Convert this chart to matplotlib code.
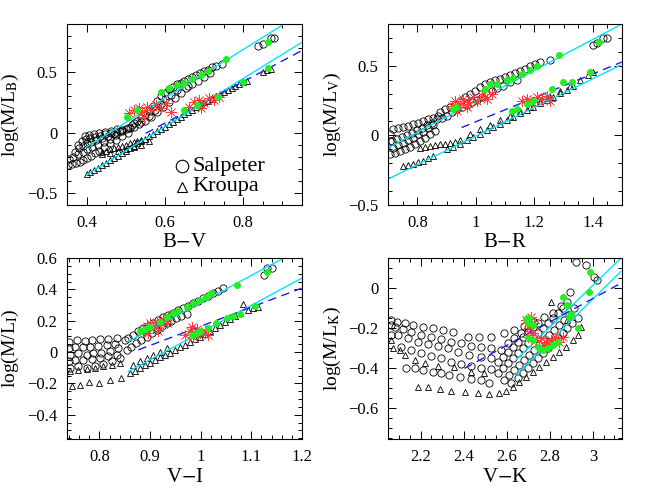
import matplotlib
matplotlib.use("Agg")
import matplotlib.pyplot as plt
from matplotlib.ticker import MultipleLocator

plt.rcParams['font.family'] = ['Liberation Serif', 'DejaVu Serif']
plt.rcParams['mathtext.fontset'] = 'stix'

# ---------------- B-V panel ----------------
bv_salp_x = [0.352, 0.362, 0.372, 0.382, 0.392, 0.402, 0.412, 0.422, 0.432, 0.445, 0.46, 0.475, 0.49, 0.505,
             0.355, 0.365, 0.378, 0.39, 0.402, 0.415, 0.43, 0.445, 0.46, 0.475, 0.49, 0.51,
             0.37, 0.38, 0.39, 0.40, 0.412, 0.425, 0.44, 0.455, 0.47, 0.485, 0.5, 0.515,
             0.378, 0.388, 0.398, 0.41, 0.422, 0.435, 0.448, 0.462, 0.476, 0.49, 0.505,
             0.395, 0.405, 0.418, 0.432, 0.447, 0.462, 0.477,
             0.52, 0.53, 0.54, 0.55, 0.56, 0.57, 0.58, 0.59, 0.60, 0.61, 0.62, 0.63, 0.64, 0.65, 0.66,
             0.67, 0.68, 0.69, 0.70, 0.71, 0.72, 0.73, 0.745,
             0.52, 0.535, 0.55, 0.565, 0.58, 0.595, 0.61, 0.625, 0.64, 0.655, 0.67, 0.685, 0.70, 0.715,
             0.54, 0.56, 0.575, 0.59, 0.60, 0.615, 0.63, 0.66,
             0.838, 0.85, 0.87, 0.878]
bv_salp_y = [-0.27, -0.26, -0.25, -0.24, -0.23, -0.21, -0.19, -0.17, -0.15, -0.12, -0.09, -0.06, -0.03, 0.0,
             -0.22, -0.2, -0.18, -0.16, -0.14, -0.12, -0.1, -0.08, -0.05, -0.02, 0.01, 0.04,
             -0.16, -0.13, -0.11, -0.09, -0.075, -0.06, -0.045, -0.03, -0.01, 0.01, 0.03, 0.06,
             -0.1, -0.07, -0.055, -0.045, -0.035, -0.025, -0.015, -0.005, 0.005, 0.02, 0.04,
             -0.03, -0.02, -0.015, -0.005, 0.005, 0.015, 0.03,
             0.08, 0.1, 0.12, 0.15, 0.18, 0.22, 0.26, 0.3, 0.33, 0.36, 0.38, 0.40, 0.41, 0.43, 0.44,
             0.46, 0.48, 0.49, 0.51, 0.52, 0.54, 0.55, 0.57,
             0.05, 0.07, 0.1, 0.13, 0.17, 0.21, 0.25, 0.29, 0.33, 0.37, 0.40, 0.43, 0.46, 0.49,
             0.09, 0.14, 0.19, 0.24, 0.28, 0.31, 0.35, 0.39,
             0.72, 0.73, 0.78, 0.785]
bv_krou_x = [0.40, 0.41, 0.42, 0.43, 0.44, 0.45, 0.46, 0.47, 0.48, 0.49, 0.50, 0.51, 0.52, 0.53, 0.54, 0.55,
             0.56, 0.57, 0.58, 0.59, 0.60, 0.61, 0.62, 0.63, 0.64, 0.65, 0.66, 0.67, 0.68, 0.69, 0.70,
             0.71, 0.72, 0.73, 0.74, 0.75, 0.76, 0.77, 0.78, 0.79, 0.80, 0.81, 0.85, 0.86, 0.87,
             0.44, 0.45, 0.46, 0.47, 0.48, 0.49, 0.50, 0.51, 0.52, 0.53, 0.54,
             0.44, 0.46, 0.48, 0.50, 0.52, 0.54, 0.56]
bv_krou_y = [-0.345, -0.33, -0.31, -0.29, -0.27, -0.25, -0.23, -0.21, -0.19, -0.17, -0.15, -0.13, -0.11, -0.09,
             -0.07, -0.05, -0.03, -0.01, 0.01, 0.03, 0.05, 0.07, 0.09, 0.11, 0.13, 0.15, 0.17, 0.19, 0.21,
             0.23, 0.25, 0.265, 0.28, 0.30, 0.32, 0.335, 0.35, 0.37, 0.385, 0.40, 0.42, 0.43, 0.50, 0.52, 0.53,
             -0.16, -0.15, -0.14, -0.13, -0.12, -0.11, -0.10, -0.09, -0.08, -0.07, -0.06,
             -0.18, -0.17, -0.155, -0.14, -0.12, -0.10, -0.07]
bv_green_x = [0.504, 0.53, 0.589, 0.611, 0.632, 0.649, 0.67, 0.692, 0.709, 0.756, 0.863,
              0.649, 0.683, 0.735, 0.799, 0.863]
bv_green_y = [0.132, 0.187, 0.339, 0.367, 0.395, 0.414, 0.442, 0.477, 0.513, 0.607, 0.753,
              0.187, 0.229, 0.298, 0.422, 0.533]
bv_red_x = [0.508, 0.521, 0.534, 0.542, 0.555, 0.564, 0.576, 0.589, 0.602, 0.615, 0.547,
            0.662, 0.675, 0.688, 0.70, 0.713, 0.726, 0.739, 0.692]
bv_red_y = [0.16, 0.187, 0.201, 0.173, 0.215, 0.187, 0.229, 0.201, 0.242, 0.173, 0.132,
            0.215, 0.256, 0.27, 0.242, 0.284, 0.27, 0.298, 0.201]
bv_cyan_x = [[0.401, 0.901], [0.40, 0.953]]
bv_cyan_y = [[-0.117, 0.892], [-0.351, 0.754]]
bv_dash_x = [0.551, 0.953]
bv_dash_y = [-0.006, 0.685]

# ---------------- B-R panel ----------------
br_salp_x = [0.706, 0.723, 0.74, 0.757, 0.774, 0.791, 0.809, 0.826, 0.843, 0.86,
             0.717, 0.734, 0.751, 0.769, 0.786, 0.803, 0.820, 0.837, 0.854, 0.871,
             0.712, 0.729, 0.746, 0.763, 0.78, 0.797, 0.814, 0.831, 0.849, 0.866,
             0.717, 0.734, 0.751, 0.769, 0.786, 0.803, 0.820, 0.837, 0.854,
             0.706, 0.706,
             0.877, 0.894, 0.911, 0.928, 0.946, 0.963, 0.98, 0.997, 1.014, 1.031, 1.048, 1.065, 1.083,
             1.1, 1.117, 1.134, 1.151, 1.168, 1.185, 1.202, 1.219, 1.254,
             0.883, 0.9, 0.917, 0.934, 0.951, 0.968, 0.985, 1.003, 1.02, 1.037, 1.054, 1.071, 1.094,
             1.117, 1.14,
             1.4, 1.416, 1.436, 1.45]
br_salp_y = [-0.137, -0.125, -0.113, -0.101, -0.084, -0.065, -0.04, -0.016, 0.008, 0.032,
             0.044, 0.056, 0.061, 0.068, 0.08, 0.092, 0.104, 0.116, 0.128, 0.14,
             -0.04, -0.028, -0.011, 0.003, 0.02, 0.037, 0.056, 0.075, 0.092, 0.116,
             -0.089, -0.07, -0.053, -0.036, -0.016, 0.008, 0.027, 0.051, 0.075,
             0.008, -0.04,
             0.165, 0.189, 0.206, 0.225, 0.249, 0.273, 0.298, 0.322, 0.346, 0.370, 0.382, 0.394, 0.406,
             0.418, 0.430, 0.447, 0.462, 0.479, 0.496, 0.515, 0.527, 0.544,
             0.128, 0.14, 0.165, 0.189, 0.206, 0.22, 0.237, 0.254, 0.273, 0.298, 0.322, 0.341, 0.358,
             0.382, 0.399,
             0.648, 0.665, 0.696, 0.701]
br_krou_x = [0.751, 0.769, 0.786, 0.803, 0.82, 0.837, 0.854,
             0.809, 0.826, 0.843, 0.86, 0.877, 0.894, 0.911, 0.928, 0.946,
             0.9, 0.923, 0.946, 0.968, 0.991, 1.014, 1.037, 1.06, 1.083, 1.105, 1.128, 1.151, 1.174,
             1.197, 1.22, 1.242, 1.265, 1.288, 1.311, 1.334, 1.357, 1.385, 1.402,
             0.98, 1.014, 1.048, 1.083, 1.117, 1.151, 1.185, 1.22, 1.254, 1.288, 1.322]
br_krou_y = [-0.222, -0.21, -0.205, -0.193, -0.181, -0.166, -0.149,
             -0.089, -0.084, -0.077, -0.072, -0.065, -0.06, -0.053, -0.046, -0.036,
             -0.101, -0.084, -0.06, -0.036, -0.011, 0.013, 0.037, 0.061, 0.085, 0.109, 0.133, 0.157, 0.182,
             0.206, 0.23, 0.254, 0.278, 0.302, 0.327, 0.358, 0.394, 0.43, 0.455,
             0.008, 0.044, 0.075, 0.109, 0.141, 0.177, 0.206, 0.244, 0.273, 0.317, 0.351]
br_green_x = [0.92, 0.932, 1.031, 1.048, 1.071, 1.105, 1.128, 1.157, 1.185, 1.208, 1.286, 1.423,
              1.122, 1.14, 1.174, 1.197, 1.26, 1.299, 1.328, 1.391]
br_green_y = [0.189, 0.201, 0.334, 0.37, 0.37, 0.394, 0.413, 0.438, 0.467, 0.496, 0.575, 0.672,
              0.177, 0.189, 0.225, 0.249, 0.334, 0.382, 0.382, 0.455]
br_red_x = [0.917, 0.928, 0.946, 0.957, 0.974, 0.991, 1.003, 1.02, 1.037, 1.054, 0.934, 0.968,
            1.157, 1.174, 1.191, 1.208, 1.225, 1.242, 1.254]
br_red_y = [0.213, 0.249, 0.225, 0.261, 0.237, 0.273, 0.249, 0.285, 0.261, 0.298, 0.177, 0.201,
            0.249, 0.261, 0.237, 0.273, 0.261, 0.285, 0.249]
br_cyan_x = [[0.70, 1.494], [0.70, 1.494]]
br_cyan_y = [[-0.089, 0.793], [-0.313, 0.503]]
br_dash_x = [0.951, 1.5]
br_dash_y = [0.056, 0.527]

# ---------------- V-I panel ----------------
vi_salp_x = [0.739, 0.755, 0.771, 0.785, 0.801, 0.817, 0.834, 0.85,
             0.739, 0.752, 0.768, 0.781, 0.798, 0.814, 0.831,
             0.742, 0.758, 0.775, 0.788, 0.804, 0.821, 0.837,
             0.739, 0.752, 0.768, 0.785, 0.801, 0.817, 0.834,
             0.742, 0.758, 0.775, 0.791, 0.808, 0.824, 0.841,
             0.857, 0.867, 0.877, 0.887, 0.896, 0.906, 0.916, 0.926, 0.936, 0.946, 0.956, 0.965, 0.975,
             0.985, 0.995, 1.005, 1.015, 1.025, 1.034, 1.044,
             0.854, 0.863, 0.873, 0.883, 0.893, 0.903, 0.913, 0.923, 0.933, 0.942, 0.952, 0.962, 0.972,
             1.124, 1.131, 1.14]
vi_salp_y = [0.067, 0.078, 0.073, 0.078, 0.082, 0.082, 0.088, 0.078,
             0.024, 0.035, 0.031, 0.035, 0.039, 0.044, 0.052,
             -0.018, -0.007, -0.018, -0.007, -0.003, 0.008, 0.025,
             -0.06, -0.05, -0.054, -0.045, -0.039, -0.028, -0.018,
             -0.103, -0.092, -0.103, -0.088, -0.075, -0.06, -0.039,
             0.088, 0.109, 0.131, 0.152, 0.167, 0.184, 0.205, 0.222, 0.237, 0.252, 0.269, 0.279, 0.294,
             0.311, 0.328, 0.343, 0.358, 0.375, 0.392, 0.407,
             0.014, 0.035, 0.056, 0.078, 0.099, 0.12, 0.141, 0.163, 0.184, 0.201, 0.216, 0.231, 0.243,
             0.492, 0.534, 0.534]
vi_krou_x = [0.745, 0.762, 0.78, 0.8, 0.821, 0.842,
             0.742, 0.758, 0.775, 0.791, 0.808, 0.824, 0.84,
             0.86, 0.87, 0.88, 0.89, 0.9, 0.909, 0.919, 0.929, 0.939, 0.949, 0.959, 0.969, 0.979, 0.988,
             0.998, 1.008, 1.018, 1.028, 1.038, 1.048, 1.057, 1.067, 1.077, 1.084, 1.094, 1.103, 1.113,
             0.867, 0.88, 0.893, 0.906, 0.919, 0.933]
vi_krou_y = [-0.215, -0.209, -0.194, -0.198, -0.181, -0.166,
             -0.118, -0.113, -0.109, -0.103, -0.092, -0.082, -0.071,
             -0.135, -0.118, -0.103, -0.082, -0.067, -0.05, -0.033, -0.018, -0.003, 0.014, 0.031, 0.046,
             0.067, 0.082, 0.099, 0.116, 0.131, 0.152, 0.173, 0.194, 0.209, 0.231, 0.248, 0.307, 0.269,
             0.279, 0.29,
             -0.082, -0.06, -0.039, -0.018, 0.003, 0.025]
vi_green_x = [0.88, 0.89, 0.9, 0.919, 0.933, 0.946, 0.956, 0.972, 0.985, 0.998, 1.011, 1.021, 1.071, 1.13,
              0.982, 0.992, 0.998, 1.015, 1.031, 1.051, 1.064, 1.077, 1.107]
vi_green_y = [0.131, 0.146, 0.158, 0.194, 0.222, 0.247, 0.264, 0.29, 0.311, 0.332, 0.354, 0.375, 0.428, 0.509,
              0.109, 0.12, 0.131, 0.152, 0.184, 0.216, 0.231, 0.243, 0.294]
vi_red_x = [0.887, 0.893, 0.9, 0.906, 0.913, 0.919, 0.926, 0.933, 0.936, 0.896, 0.916,
            0.969, 0.979, 0.985, 0.992, 0.998, 1.008, 1.015, 0.982]
vi_red_y = [0.141, 0.163, 0.184, 0.152, 0.194, 0.173, 0.209, 0.188, 0.226, 0.12, 0.131,
            0.109, 0.131, 0.099, 0.146, 0.12, 0.137, 0.109, 0.158]
vi_cyan_x = [[0.857, 1.163], [0.857, 1.199]]
vi_cyan_y = [[0.067, 0.598], [-0.124, 0.47]]
vi_dash_x = [0.877, 1.199]
vi_dash_y = [0.014, 0.407]

# ---------------- V-K panel ----------------
vk_salp_x = [2.064, 2.092, 2.126, 2.165, 2.211, 2.257, 2.304, 2.35, 2.419, 2.473, 2.527,
             2.064, 2.08, 2.118, 2.157, 2.203, 2.25, 2.296, 2.342, 2.388, 2.435, 2.481, 2.527,
             2.064, 2.095, 2.142, 2.188, 2.234, 2.28, 2.327, 2.373, 2.427, 2.481, 2.527,
             2.111, 2.157, 2.203, 2.25, 2.296, 2.342, 2.388, 2.435, 2.481, 2.527,
             2.134, 2.172, 2.211, 2.257, 2.296, 2.334, 2.381, 2.435, 2.481, 2.52,
             2.558, 2.581, 2.604, 2.628, 2.651, 2.674, 2.697, 2.72, 2.743, 2.767, 2.79, 2.813, 2.836,
             2.859, 2.882, 2.895,
             2.589, 2.612, 2.635, 2.659, 2.682, 2.705, 2.728, 2.751, 2.774, 2.797, 2.821, 2.844, 2.867,
             2.89, 2.913,
             2.62, 2.651, 2.674, 2.697, 2.72, 2.743, 2.767, 2.79, 2.813, 2.836, 2.859, 2.882, 2.905, 2.929,
             2.558, 2.581, 2.604, 2.628, 2.651, 2.674, 2.697, 2.72, 2.743,
             2.574, 2.604, 2.635, 2.666, 2.697,
             2.589, 2.635, 2.682, 2.728, 2.774, 2.813, 2.851,
             2.921, 2.967, 3.006, 3.021]
vk_salp_y = [-0.16, -0.168, -0.173, -0.185, -0.197, -0.202, -0.21, -0.218, -0.243, -0.243, -0.247,
             -0.185, -0.197, -0.207, -0.218, -0.235, -0.243, -0.257, -0.268, -0.277, -0.29, -0.297, -0.302,
             -0.235, -0.235, -0.252, -0.268, -0.28, -0.29, -0.302, -0.318, -0.335, -0.343, -0.352,
             -0.293, -0.31, -0.327, -0.34, -0.352, -0.368, -0.38, -0.39, -0.402, -0.407,
             -0.398, -0.402, -0.41, -0.42, -0.427, -0.435, -0.443, -0.457, -0.46, -0.473,
             -0.427, -0.402, -0.377, -0.352, -0.327, -0.302, -0.277, -0.252, -0.227, -0.202, -0.177,
             -0.152, -0.127, -0.102, -0.068, -0.018,
             -0.46, -0.435, -0.41, -0.385, -0.36, -0.335, -0.31, -0.285, -0.26, -0.235, -0.21, -0.185,
             -0.16, -0.135, -0.102,
             -0.477, -0.452, -0.427, -0.402, -0.377, -0.352, -0.327, -0.302, -0.277, -0.252, -0.227,
             -0.202, -0.177, -0.152,
             -0.368, -0.343, -0.318, -0.293, -0.268, -0.243, -0.218, -0.197, -0.177,
             -0.31, -0.277, -0.252, -0.227, -0.202,
             -0.223, -0.21, -0.19, -0.168, -0.147, -0.123, -0.09,
             0.132, 0.115, 0.057, 0.04]
vk_krou_x = [2.064, 2.072, 2.103, 2.126, 2.172, 2.219, 2.28,
             2.188, 2.234, 2.288, 2.342, 2.404, 2.466, 2.52, 2.566, 2.597, 2.628, 2.659, 2.689, 2.72,
             2.751, 2.782, 2.813, 2.844, 2.875, 2.906, 2.929, 2.944, 2.805, 2.882, 2.898,
             2.357, 2.435, 2.496]
vk_krou_y = [-0.26, -0.302, -0.31, -0.335, -0.36, -0.377, -0.39,
             -0.493, -0.493, -0.505, -0.513, -0.522, -0.527, -0.53, -0.523, -0.513, -0.493, -0.468,
             -0.443, -0.418, -0.393, -0.368, -0.343, -0.318, -0.293, -0.26, -0.235, -0.197, -0.068,
             -0.16, -0.127,
             -0.393, -0.418, -0.427]
vk_green_x = [2.689, 2.705, 2.697, 2.72, 2.697, 2.72, 2.743, 2.767, 2.79, 2.813, 2.836, 2.859, 2.882,
              2.89, 2.898, 2.929, 2.983, 2.987]
vk_green_y = [-0.157, -0.152, -0.177, -0.185, -0.252, -0.26, -0.293, -0.31, -0.302, -0.285, -0.268,
              -0.043, -0.085, -0.143, -0.13, -0.202, -0.018, 0.082]
vk_red_x = [2.689, 2.713, 2.728, 2.705, 2.72, 2.697, 2.736, 2.759, 2.782, 2.805, 2.828, 2.844, 2.859, 2.774]
vk_red_y = [-0.16, -0.143, -0.177, -0.202, -0.227, -0.243, -0.26, -0.252, -0.268, -0.26, -0.252, -0.268,
            -0.243, -0.285]
vk_cyan_x = [[2.643, 3.129], [2.643, 3.129]]
vk_cyan_y = [[-0.36, 0.148], [-0.435, 0.082]]
vk_dash_x = [2.404, 3.129]
vk_dash_y = [-0.402, 0.023]

fig = plt.figure(figsize=(6.62, 4.95), dpi=100)
boxes = [[0.1012, 0.5859, 0.355, 0.3657], [0.5865, 0.5859, 0.353, 0.3657],
         [0.1012, 0.1131, 0.355, 0.3657], [0.5865, 0.1131, 0.353, 0.3657]]

panels = [
    (bv_salp_x, bv_salp_y, bv_krou_x, bv_krou_y, bv_green_x, bv_green_y, bv_red_x, bv_red_y,
     bv_cyan_x, bv_cyan_y, bv_dash_x, bv_dash_y, (0.35, 0.95), (-0.6, 0.9), (0.2, 0.05), (0.5, 0.1),
     'B$-$V', r'log(M/L$_{\rm B}$)'),
    (br_salp_x, br_salp_y, br_krou_x, br_krou_y, br_green_x, br_green_y, br_red_x, br_red_y,
     br_cyan_x, br_cyan_y, br_dash_x, br_dash_y, (0.7, 1.5), (-0.5, 0.8), (0.2, 0.05), (0.5, 0.1),
     'B$-$R', r'log(M/L$_{\rm V}$)'),
    (vi_salp_x, vi_salp_y, vi_krou_x, vi_krou_y, vi_green_x, vi_green_y, vi_red_x, vi_red_y,
     vi_cyan_x, vi_cyan_y, vi_dash_x, vi_dash_y, (0.736, 1.2), (-0.555, 0.6), (0.1, 0.02), (0.2, 0.05),
     'V$-$I', r'log(M/L$_{\rm I}$)'),
    (vk_salp_x, vk_salp_y, vk_krou_x, vk_krou_y, vk_green_x, vk_green_y, vk_red_x, vk_red_y,
     vk_cyan_x, vk_cyan_y, vk_dash_x, vk_dash_y, (2.05, 3.135), (-0.755, 0.15), (0.2, 0.05), (0.2, 0.05),
     'V$-$K', r'log(M/L$_{\rm K}$)'),
]

for box, p in zip(boxes, panels):
    (sx, sy, kx, ky, gx, gy, rx, ry, cx, cy, dx, dy, xl, yl, xt, yt, xlab, ylab) = p
    ax = fig.add_axes(box)
    ax.plot(sx, sy, 'o', ms=5.2, mfc='none', mec='black', mew=0.6, ls='none')
    ax.plot(kx, ky, '^', ms=4.2, mfc='none', mec='black', mew=0.6, ls='none')
    for lx, ly in zip(cx, cy):
        ax.plot(lx, ly, color='#00e5ff', lw=1.0)
    ax.plot(dx, dy, color='#1a1aff', lw=1.0, dashes=(6, 4))
    ax.plot(rx, ry, marker=(8, 2, 0), ms=8, color='#ff3a3a', mew=0.45, ls='none')
    ax.plot(gx, gy, 'o', ms=4, color='#22ee22', mec='#22ee22', ls='none')
    ax.set_xlim(*xl)
    ax.set_ylim(*yl)
    ax.xaxis.set_major_locator(MultipleLocator(xt[0]))
    ax.xaxis.set_minor_locator(MultipleLocator(xt[1]))
    ax.yaxis.set_major_locator(MultipleLocator(yt[0]))
    ax.yaxis.set_minor_locator(MultipleLocator(yt[1]))
    ax.tick_params(which='both', direction='in', top=True, right=True, labelsize=12, width=0.7)
    ax.tick_params(which='major', length=6, pad=7)
    ax.tick_params(which='minor', length=3)
    ax.xaxis.set_major_formatter(plt.FuncFormatter(lambda v, _: ('%g' % round(v, 3)).replace('-', '\u2212')))
    ax.yaxis.set_major_formatter(plt.FuncFormatter(lambda v, _: ('%g' % round(v, 3)).replace('-', '\u2212')))
    for s in ax.spines.values():
        s.set_linewidth(0.8)
    ax.set_xlabel(xlab, fontsize=15, labelpad=2)
    ax.set_ylabel(ylab, fontsize=14, labelpad=4)

ax0 = fig.axes[0]
ax0.plot([0.489], [0.215], 'o', ms=9, mfc='none', mec='black', mew=0.8, transform=ax0.transAxes)
ax0.plot([0.489], [0.1], '^', ms=7.5, mfc='none', mec='black', mew=0.8, transform=ax0.transAxes)
ax0.text(0.535, 0.215, 'Salpeter', fontsize=16, va='center', transform=ax0.transAxes)
ax0.text(0.535, 0.1, 'Kroupa', fontsize=16, va='center', transform=ax0.transAxes)

fig.savefig('out.png', dpi=100)
